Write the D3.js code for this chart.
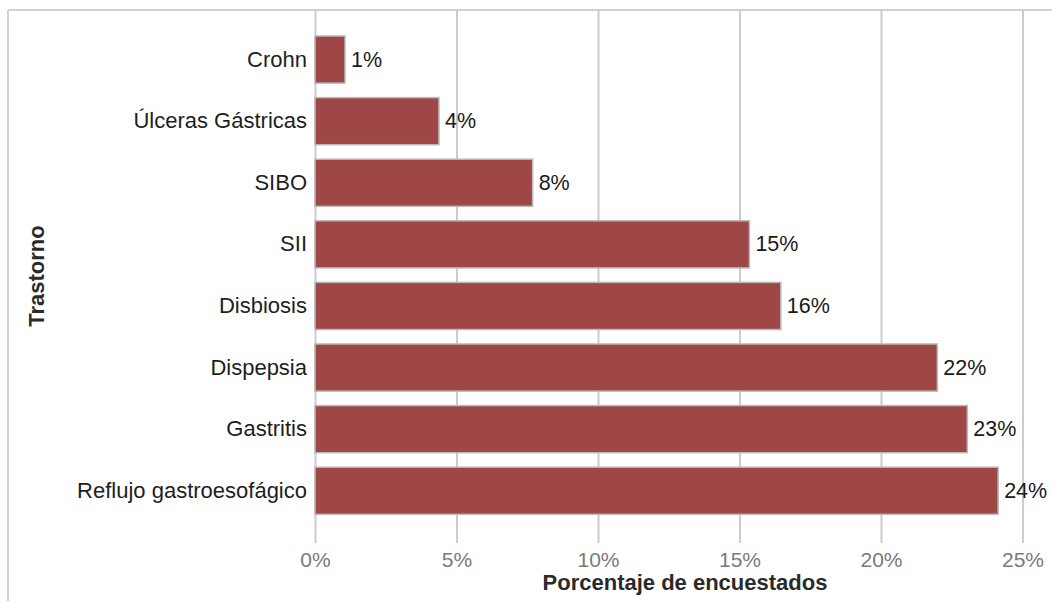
<!DOCTYPE html>
<html>
<head>
<meta charset="utf-8">
<script src="https://cdn.jsdelivr.net/npm/d3@7"></script>
<style>
  html, body { margin: 0; padding: 0; background: #fff; }
  svg { display: block; font-family: "Liberation Sans", Arial, Helvetica, sans-serif; }
</style>
</head>
<body>
<svg id="chart" width="1052" height="601"></svg>
<script>
// Trastornos digestivos declarados por los encuestados (% del total)
const categories = [
  "Crohn",
  "Úlceras Gástricas",
  "SIBO",
  "SII",
  "Disbiosis",
  "Dispepsia",
  "Gastritis",
  "Reflujo gastroesofágico"
];
const values = [1.06, 4.38, 7.69, 15.35, 16.46, 21.99, 23.05, 24.14];
const xTicks = [0, 5, 10, 15, 20, 25];
const xTitle = "Porcentaje de encuestados";
const yTitle = "Trastorno";

const svg = d3.select("#chart");

const plotTop = 10, plotBottom = 543;
const x = d3.scaleLinear().domain([0, 25]).range([315, 1022.5]);
const y = d3.scaleBand()
  .domain(categories)
  .range([28.6, 521.7])
  .paddingInner(0.235)
  .paddingOuter(0.12);

// outer frame (top and left edges)
svg.append("line")
  .attr("x1", 8).attr("x2", 1052).attr("y1", 10).attr("y2", 10)
  .attr("stroke", "#d2d2d2").attr("stroke-width", 2);
svg.append("line")
  .attr("x1", 8).attr("x2", 8).attr("y1", 10).attr("y2", 601)
  .attr("stroke", "#d2d2d2").attr("stroke-width", 2);

// vertical gridlines + tick labels
const xAxis = d3.axisBottom(x)
  .tickValues(xTicks)
  .tickFormat(d => d + "%")
  .tickSize(-(plotBottom - plotTop))
  .tickPadding(9);

const gx = svg.append("g")
  .attr("transform", `translate(0,${plotBottom})`)
  .call(xAxis);
gx.select(".domain").remove();
gx.selectAll(".tick line").attr("stroke", "#cccccc").attr("stroke-width", 2);
gx.selectAll(".tick text")
  .attr("fill", "#7a7a7a")
  .style("font-size", "21px")
  .style("font-family", "'Liberation Sans', Arial, sans-serif");

// bars
svg.append("g")
  .selectAll("rect")
  .data(categories)
  .join("rect")
  .attr("x", x(0))
  .attr("y", d => y(d))
  .attr("width", (d, i) => x(values[i]) - x(0))
  .attr("height", y.bandwidth())
  .attr("fill", "#9f4647")
  .attr("stroke", "#b9b9b9")
  .attr("stroke-width", 1.5);

// value labels
svg.append("g")
  .selectAll("text")
  .data(categories)
  .join("text")
  .attr("x", (d, i) => x(values[i]) + 6)
  .attr("y", d => y(d) + y.bandwidth() / 2)
  .attr("dominant-baseline", "central")
  .attr("fill", "#1a1a1a")
  .style("font-size", "21.5px")
  .text((d, i) => Math.round(values[i]) + "%");

// category axis
const gy = svg.append("g")
  .attr("transform", `translate(${x(0)},0)`)
  .call(d3.axisLeft(y).tickSize(0).tickPadding(8));
gy.select(".domain").remove();
gy.selectAll(".tick text")
  .attr("fill", "#1e1e1e")
  .style("font-size", "22px")
  .style("font-family", "'Liberation Sans', Arial, sans-serif");

// axis titles
svg.append("text")
  .attr("x", 685)
  .attr("y", 590)
  .attr("text-anchor", "middle")
  .attr("fill", "#2a2a2a")
  .style("font-size", "22px")
  .style("font-weight", "bold")
  .text(xTitle);

svg.append("text")
  .attr("transform", "translate(36,276) rotate(-90)")
  .attr("text-anchor", "middle")
  .attr("dominant-baseline", "central")
  .attr("fill", "#2a2a2a")
  .style("font-size", "22px")
  .style("font-weight", "bold")
  .text(yTitle);
</script>
</body>
</html>
